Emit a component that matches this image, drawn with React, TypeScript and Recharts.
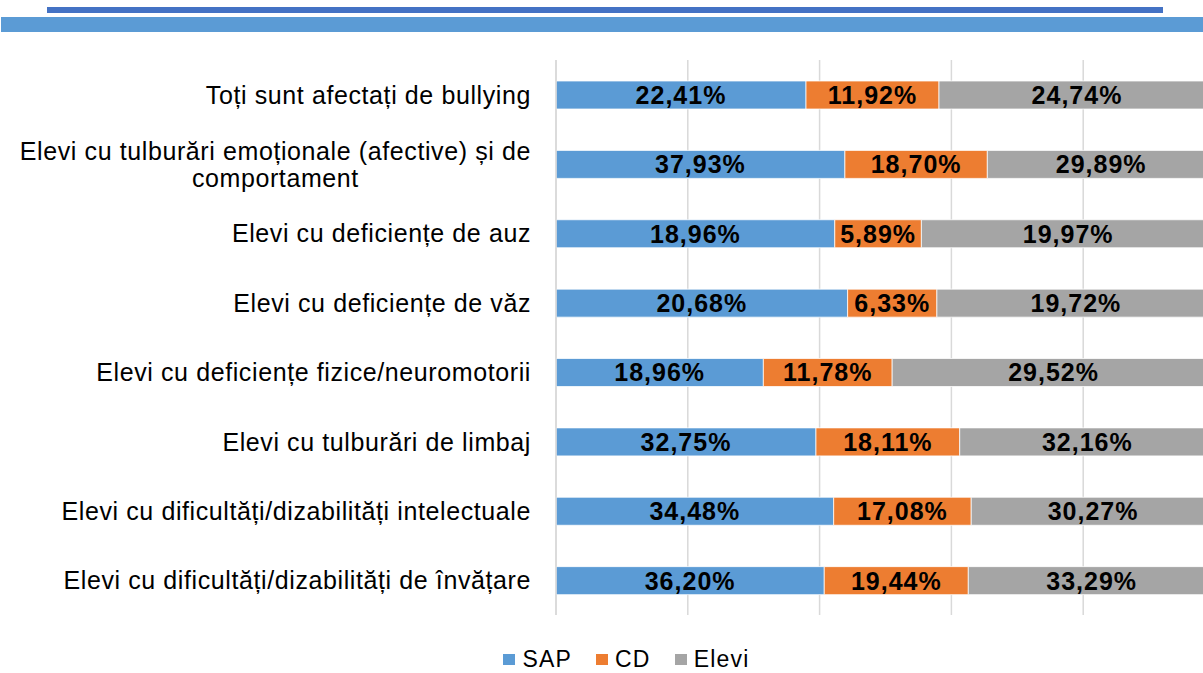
import React from 'react';
import { BarChart, Bar, XAxis, YAxis, CartesianGrid, Legend, LabelList } from 'recharts';

const categories = [
  'Toți sunt afectați de bullying',
  'Elevi cu tulburări emoționale (afective) și de comportament',
  'Elevi cu deficiențe de auz',
  'Elevi cu deficiențe de văz',
  'Elevi cu deficiențe fizice/neuromotorii',
  'Elevi cu tulburări de limbaj',
  'Elevi cu dificultăți/dizabilități intelectuale',
  'Elevi cu dificultăți/dizabilități de învățare',
];
const sapValues = [22.41, 37.93, 18.96, 20.68, 18.96, 32.75, 34.48, 36.2];
const cdValues = [11.92, 18.7, 5.89, 6.33, 11.78, 18.11, 17.08, 19.44];
const eleviValues = [24.74, 29.89, 19.97, 19.72, 29.52, 32.16, 30.27, 33.29];
const gridTicks = [0, 0.2, 0.4, 0.6, 0.8, 1];

const series = [
  { key: 'sap', name: 'SAP', color: '#5B9BD5' },
  { key: 'cd', name: 'CD', color: '#ED7D31' },
  { key: 'elevi', name: 'Elevi', color: '#A5A5A5' },
];

const data = categories.map((name, i) => ({
  name,
  sap: sapValues[i],
  cd: cdValues[i],
  elevi: eleviValues[i],
}));

const FONT = '"Liberation Sans", Arial, sans-serif';
const LABEL_SIZE = 25;
const LABEL_SPACING = 0.6;

let ctx: CanvasRenderingContext2D | null = null;
const measure = (s: string) => {
  if (!ctx) ctx = document.createElement('canvas').getContext('2d');
  if (!ctx) return s.length * LABEL_SIZE * 0.5;
  ctx.font = `${LABEL_SIZE}px ${FONT}`;
  return ctx.measureText(s).width + s.length * LABEL_SPACING;
};

// wrap long category names like the office chart does
const wrap = (text: string, maxW: number) => {
  const words = text.split(' ');
  const lines: string[] = [];
  let cur = '';
  words.forEach((w) => {
    const next = cur ? cur + ' ' + w : w;
    if (cur && measure(next) > maxW) {
      lines.push(cur);
      cur = w;
    } else cur = next;
  });
  if (cur) lines.push(cur);
  return lines;
};

const CategoryTick = (props: any) => {
  const { x, y, payload } = props;
  const lines = wrap(payload.value, 525);
  const maxW = Math.max(...lines.map(measure));
  const cx = x - maxW / 2;
  const lh = 27;
  const y0 = y - ((lines.length - 1) * lh) / 2;
  return (
    <g>
      {lines.map((l, i) => (
        <text key={i} x={cx} y={y0 + i * lh} textAnchor="middle" dominantBaseline="central"
          fontFamily={FONT} fontSize={LABEL_SIZE} letterSpacing={LABEL_SPACING} fill="#000">
          {l}
        </text>
      ))}
    </g>
  );
};

const fmt = (v: any) => Number(v).toFixed(2).replace('.', ',') + '%';

const LegendContent = () => (
  <div style={{ display: 'flex', justifyContent: 'center', alignItems: 'center', height: 58, paddingTop: 30, paddingLeft: 38, boxSizing: 'border-box', fontFamily: FONT, fontSize: 23, letterSpacing: 1.2, lineHeight: '18px' }}>
    {series.map((s) => (
      <div key={s.key} style={{ display: 'flex', alignItems: 'center', margin: '0 12px' }}>
        <span style={{ width: 12, height: 11, background: s.color, display: 'inline-block', marginRight: 7 }} />
        <span>{s.name}</span>
      </div>
    ))}
  </div>
);

export default function App() {
  return (
    <div style={{ position: 'fixed', left: 0, top: 0, width: 1203, height: 673, overflow: 'hidden', background: '#fff' }}>
      <div style={{ position: 'absolute', left: 47, top: 7, width: 1116, height: 6, background: '#4472C4' }} />
      <div style={{ position: 'absolute', left: 1, top: 17, width: 1202, height: 15, background: '#5B9BD5' }} />
      <BarChart
        width={1240}
        height={673}
        data={data}
        layout="vertical"
        stackOffset="expand"
        barSize={28}
        margin={{ top: 60, right: 25, left: 0, bottom: 0 }}
      >
        <CartesianGrid horizontal={false} stroke="#D9D9D9" strokeWidth={1.5} />
        <XAxis type="number" domain={[0, 1]} ticks={gridTicks} tick={() => <g />} axisLine={false} tickLine={false} height={0} />
        <YAxis
          type="category"
          dataKey="name"
          width={556}
          tickSize={0}
          tickMargin={25}
          axisLine={{ stroke: '#D9D9D9', strokeWidth: 1.5 }}
          tickLine={false}
          tick={<CategoryTick />}
          interval={0}
        />
        <Legend verticalAlign="bottom" content={<LegendContent />} />
        {series.map((s) => (
          <Bar key={s.key} dataKey={s.key} name={s.name} stackId="a" fill={s.color} stroke="#fff" strokeWidth={0.75} isAnimationActive={false}>
            <LabelList dataKey={s.key} position="center" formatter={fmt} fill="#000" fontFamily={FONT} fontSize={25} letterSpacing={1} fontWeight="bold" />
          </Bar>
        ))}
      </BarChart>
    </div>
  );
}
